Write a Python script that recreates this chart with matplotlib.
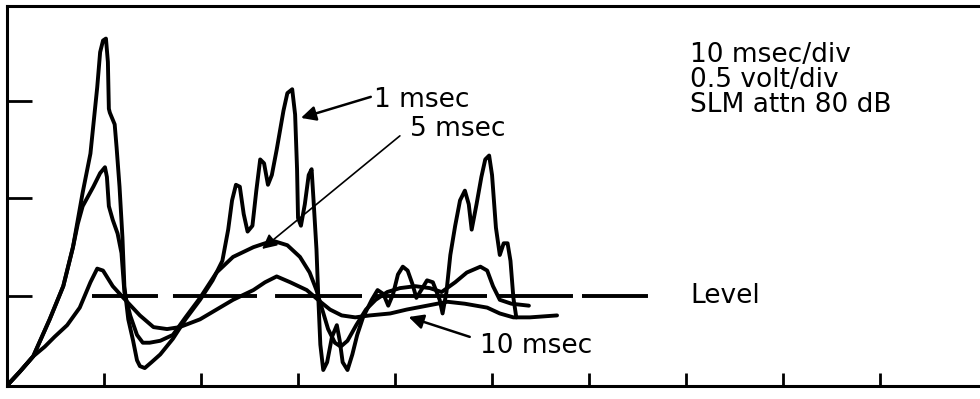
import matplotlib
matplotlib.use("Agg")
import matplotlib.pyplot as plt

plt.rcParams["font.family"] = ["DejaVu Sans"]
plt.rcParams["lines.scale_dashes"] = False

# Time in msec, amplitude in volts (0.5 volt/div, 10 msec/div)
t_1ms = [0.0, 1.3, 2.7, 4.4, 5.8, 6.8, 7.8, 8.6, 9.3, 9.6, 9.9, 10.2, 10.4, 10.5, 10.6,
         11.1, 11.3, 11.6, 11.9, 12.1, 12.5, 13.0, 13.4, 13.7, 14.2, 14.9, 15.8, 17.1,
         18.4, 19.9, 21.2, 22.2, 22.8, 23.2, 23.6, 24.0, 24.4, 24.8, 25.3, 25.7, 26.1,
         26.5, 26.9, 27.3, 27.8, 28.5, 28.9, 29.4, 29.7, 29.9, 30.0, 30.3, 30.7, 31.1,
         31.4, 31.6, 31.9, 32.1, 32.3, 32.6, 33.0, 33.5, 34.0, 34.3, 34.6, 35.1, 35.6,
         36.1, 36.7, 37.6, 38.2, 38.8, 39.3, 39.8, 40.3, 40.8, 41.3, 41.8, 42.2, 42.7,
         43.3, 43.9, 44.6, 44.9, 45.3, 45.7, 46.2, 46.7, 47.2, 47.6, 47.9, 48.4, 48.9,
         49.3, 49.7, 50.0, 50.4, 50.8, 51.2, 51.6, 51.9, 52.2, 52.5]
v_1ms = [0.04, 0.11, 0.19, 0.38, 0.55, 0.75, 1.03, 1.23, 1.57, 1.75, 1.81, 1.82, 1.70, 1.46, 1.44,
         1.38, 1.26, 1.06, 0.80, 0.55, 0.38, 0.27, 0.17, 0.14, 0.13, 0.16, 0.20, 0.28,
         0.38, 0.48, 0.58, 0.68, 0.84, 0.99, 1.07, 1.06, 0.92, 0.83, 0.86, 1.04, 1.20,
         1.18, 1.07, 1.12, 1.25, 1.45, 1.54, 1.56, 1.43, 1.15, 0.90, 0.86, 0.97, 1.12,
         1.15, 0.99, 0.74, 0.48, 0.25, 0.12, 0.16, 0.29, 0.35, 0.27, 0.16, 0.12, 0.20,
         0.30, 0.39, 0.48, 0.53, 0.51, 0.45, 0.51, 0.61, 0.65, 0.63, 0.56, 0.49, 0.53,
         0.58, 0.57, 0.48, 0.41, 0.52, 0.71, 0.86, 0.99, 1.04, 0.97, 0.84, 0.97, 1.11,
         1.20, 1.22, 1.12, 0.85, 0.71, 0.77, 0.77, 0.68, 0.49, 0.39]

t_5ms = [0.0, 1.3, 2.7, 4.4, 5.8, 6.8, 7.3, 7.8, 8.9, 9.6, 10.1, 10.3, 10.5, 10.9, 11.4,
         11.8, 12.1, 12.7, 13.4, 14.0, 14.7, 15.8, 17.1, 18.4, 19.9, 21.6, 23.3, 25.4,
         26.6, 27.6, 28.9, 30.2, 31.2, 31.9, 32.5, 33.1, 33.8, 34.4, 35.1, 36.0, 37.0,
         38.0, 39.2, 40.5, 42.1, 43.6, 44.8, 46.2, 47.4, 48.8, 49.5, 50.1, 50.8, 52.0, 53.8]
v_5ms = [0.04, 0.11, 0.19, 0.38, 0.55, 0.75, 0.87, 0.96, 1.06, 1.13, 1.16, 1.11, 0.96, 0.89, 0.82,
         0.72, 0.52, 0.40, 0.30, 0.26, 0.26, 0.27, 0.30, 0.39, 0.49, 0.62, 0.70, 0.75,
         0.77, 0.78, 0.76, 0.70, 0.62, 0.53, 0.43, 0.33, 0.26, 0.24, 0.27, 0.35, 0.43,
         0.48, 0.52, 0.54, 0.55, 0.54, 0.52, 0.57, 0.62, 0.65, 0.63, 0.55, 0.48, 0.46, 0.45]

t_10ms = [0.0, 1.3, 2.7, 3.9, 4.9, 6.2, 7.5, 8.6, 9.3, 9.9, 10.9, 12.0, 13.7, 15.1, 16.5,
          17.8, 19.9, 21.6, 23.3, 25.4, 26.6, 27.8, 29.2, 30.9, 32.3, 33.3, 34.5, 35.9,
          37.4, 39.5, 41.2, 43.3, 45.4, 47.2, 49.5, 50.8, 52.2, 53.9, 56.7]
v_10ms = [0.04, 0.11, 0.19, 0.24, 0.29, 0.35, 0.44, 0.57, 0.64, 0.63, 0.55, 0.49, 0.40, 0.34, 0.33,
          0.34, 0.38, 0.43, 0.48, 0.53, 0.57, 0.60, 0.57, 0.53, 0.47, 0.43, 0.40, 0.39,
          0.40, 0.41, 0.43, 0.45, 0.47, 0.46, 0.44, 0.41, 0.39, 0.39, 0.40]

level_volts = 0.5
level_span = (8.8, 66.1)

settings_text = ["10 msec/div", "0.5 volt/div", "SLM attn 80 dB"]

fig = plt.figure(figsize=(9.8, 3.99), dpi=100)
ax = fig.add_axes([7 / 980, 13 / 399, 973 / 980, 380 / 399])
ax.set_xlim(0, 100.3)
ax.set_ylim(0.038, 1.987)

trace = dict(color="black", lw=2.8, solid_joinstyle="round", solid_capstyle="round")
ax.plot(t_1ms, v_1ms, **trace)
ax.plot(t_5ms, v_5ms, **trace)
ax.plot(t_10ms, v_10ms, **trace)

# uneven, hand-drawn dashes for the level line (lengths in points)
ax.plot(level_span, [level_volts, level_volts], color="black", lw=2.8, dash_capstyle="butt",
        linestyle=(0, (47.5, 10.8, 60.5, 13.0, 62.6, 9.4, 80.6, 7.2, 54.7, 6.5, 47.5, 20)))

for side in ("top", "bottom", "left"):
    ax.spines[side].set_linewidth(2.2)
ax.spines["right"].set_visible(False)

ax.set_xticks(range(10, 100, 10))
ax.set_yticks([0.5, 1.0, 1.5])
ax.tick_params(axis="x", direction="in", length=9.5, width=2.0, labelbottom=False)
ax.tick_params(axis="y", direction="in", length=18, width=2.0, labelleft=False)

fs = 19
for i, s in enumerate(settings_text):
    ax.text(70.4, 1.70 - i * 0.128, s, fontsize=fs, va="baseline", ha="left")
ax.text(70.4, 0.464, "Level", fontsize=fs, va="baseline", ha="left")

arrow = dict(arrowstyle="-|>", color="black", shrinkA=0, shrinkB=0, mutation_scale=22)
ax.annotate("", xy=(30.3, 1.413), xytext=(37.5, 1.521), arrowprops=dict(arrow, lw=1.8))
ax.annotate("", xy=(26.3, 0.741), xytext=(40.5, 1.321), arrowprops=dict(arrow, lw=1.2))
ax.annotate("", xy=(41.4, 0.392), xytext=(47.7, 0.290), arrowprops=dict(arrow, lw=1.8))

ax.text(37.8, 1.469, "1 msec", fontsize=fs, va="baseline", ha="left")
ax.text(41.5, 1.321, "5 msec", fontsize=fs, va="baseline", ha="left")
ax.text(48.8, 0.208, "10 msec", fontsize=fs, va="baseline", ha="left")

fig.savefig("out.png", dpi=100)
